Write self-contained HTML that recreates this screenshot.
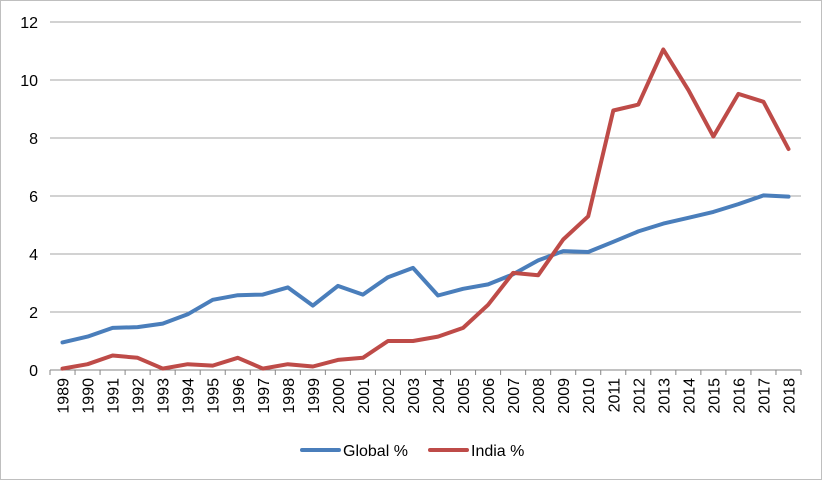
<!DOCTYPE html>
<html><head><meta charset="utf-8"><style>
html,body{margin:0;padding:0;background:#fff}
svg{display:block;font-family:"Liberation Sans",sans-serif}
</style></head><body>
<svg id="s" width="822" height="480" xmlns="http://www.w3.org/2000/svg">
<rect x="0.5" y="0.5" width="821" height="479" fill="#fff" stroke="#bfbfbf"/>
<g id="g"></g>
</svg>
<script>
var g=document.getElementById('g'),h='';
var L=50,R=801,Y0=370,U=29,W=(R-L)/30;
for(var v=0;v<=12;v+=2){var y=Y0-v*U;
 if(v>0)h+='<line x1="'+L+'" x2="'+R+'" y1="'+y+'" y2="'+y+'" stroke="#a6a6a6" stroke-width="1"/>';
 h+='<text x="38" y="'+(y+6)+'" font-size="16" text-anchor="end" fill="#000">'+v+'</text>';}
h+='<line x1="'+L+'" x2="'+R+'" y1="'+Y0+'" y2="'+Y0+'" stroke="#868686"/>';
for(var i=0;i<=30;i++){var x=L+i*W;h+='<line x1="'+x+'" x2="'+x+'" y1="'+Y0+'" y2="'+(Y0+5)+'" stroke="#868686"/>';}
for(var i=0;i<30;i++){var x=L+(i+0.5)*W+6;h+='<text transform="translate('+x+',378) rotate(-90)" font-size="16" text-anchor="end">'+(1989+i)+'</text>';}
var gl=[0.95,1.15,1.45,1.48,1.6,1.92,2.42,2.58,2.6,2.85,2.22,2.9,2.6,3.2,3.52,2.57,2.8,2.95,3.3,3.78,4.1,4.07,4.42,4.78,5.05,5.25,5.45,5.72,6.02,5.98];
var ind=[0.05,0.2,0.5,0.42,0.05,0.2,0.15,0.42,0.05,0.2,0.12,0.35,0.42,1.0,1.0,1.15,1.45,2.25,3.35,3.27,4.5,5.3,8.95,9.15,11.05,9.65,8.05,9.52,9.25,7.62];
function pl(d,c){var p=d.map(function(v,i){return (L+(i+0.5)*W).toFixed(1)+','+(Y0-v*U).toFixed(1)}).join(' ');
 return '<polyline points="'+p+'" fill="none" stroke="'+c+'" stroke-width="4" stroke-linejoin="round" stroke-linecap="round"/>';}
h+=pl(gl,'#4a7ebb')+pl(ind,'#be4b48');
h+='<line x1="302" x2="339" y1="450" y2="450" stroke="#4a7ebb" stroke-width="4" stroke-linecap="round"/>';
h+='<text x="343" y="456" font-size="16">Global %</text>';
h+='<line x1="430" x2="467" y1="450" y2="450" stroke="#be4b48" stroke-width="4" stroke-linecap="round"/>';
h+='<text x="471" y="456" font-size="16">India %</text>';
g.innerHTML=h;
</script>
</body></html>
